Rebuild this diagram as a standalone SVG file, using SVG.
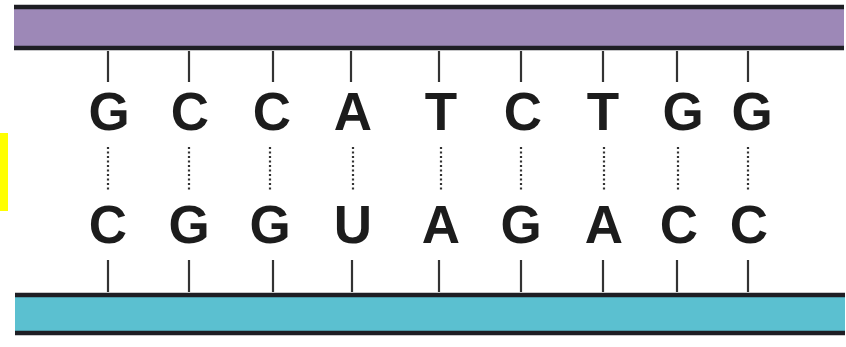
<svg xmlns="http://www.w3.org/2000/svg" width="846" height="347" viewBox="0 0 846 347">
<style>
.base{font-family:"Liberation Sans",Arial,sans-serif;font-weight:bold;font-size:53px;fill:#1c1c1c;text-anchor:middle}
.tick{stroke:#333;stroke-width:2.2}
.hb{stroke:#333;stroke-width:2.2;stroke-dasharray:2 2.5}
.edge{stroke:#1e1e24;stroke-width:4.5}
</style>
<rect width="846" height="347" fill="#ffffff"/>
<rect x="0" y="133" width="8" height="78" fill="#ffff00"/>
<g id="top-strand">
<rect x="14" y="7" width="830" height="41" fill="#9d88b7"/>
<line class="edge" x1="14" y1="7" x2="844" y2="7"/>
<line class="edge" x1="14" y1="48" x2="844" y2="48"/>
</g>
<g id="bottom-strand">
<rect x="15" y="295" width="830" height="38" fill="#5bc0d0"/>
<line class="edge" x1="15" y1="295" x2="845" y2="295"/>
<line class="edge" x1="15" y1="333" x2="845" y2="333"/>
</g>
<g id="connectors">
<g class="tick">
<line x1="108" y1="51" x2="108" y2="82"/><line x1="189" y1="51" x2="189" y2="82"/><line x1="273" y1="51" x2="273" y2="82"/>
<line x1="351" y1="51" x2="351" y2="82"/><line x1="439" y1="51" x2="439" y2="82"/><line x1="521" y1="51" x2="521" y2="82"/>
<line x1="603" y1="51" x2="603" y2="82"/><line x1="677" y1="51" x2="677" y2="82"/><line x1="748" y1="51" x2="748" y2="82"/>
<line x1="108" y1="260" x2="108" y2="292"/><line x1="189" y1="260" x2="189" y2="292"/><line x1="273" y1="260" x2="273" y2="292"/>
<line x1="352" y1="260" x2="352" y2="292"/><line x1="439" y1="260" x2="439" y2="292"/><line x1="521" y1="260" x2="521" y2="292"/>
<line x1="603" y1="260" x2="603" y2="292"/><line x1="677" y1="260" x2="677" y2="292"/><line x1="748" y1="260" x2="748" y2="292"/>
</g>
<g class="hb">
<line x1="108" y1="147" x2="108" y2="192"/><line x1="189" y1="147" x2="189" y2="192"/><line x1="270" y1="147" x2="270" y2="192"/>
<line x1="353" y1="147" x2="353" y2="192"/><line x1="441" y1="147" x2="441" y2="192"/><line x1="521" y1="147" x2="521" y2="192"/>
<line x1="604" y1="147" x2="604" y2="192"/><line x1="678" y1="147" x2="678" y2="192"/><line x1="748" y1="147" x2="748" y2="192"/>
</g>
</g>
<g id="top-bases">
<text class="base" x="109" y="130">G</text><text class="base" x="190" y="130">C</text><text class="base" x="272" y="130">C</text>
<text class="base" x="353" y="130">A</text><text class="base" x="441" y="130">T</text><text class="base" x="523" y="130">C</text>
<text class="base" x="603" y="130">T</text><text class="base" x="683" y="130">G</text><text class="base" x="752" y="130">G</text>
</g>
<g id="bottom-bases">
<text class="base" x="108" y="243">C</text><text class="base" x="189" y="243">G</text><text class="base" x="270" y="243">G</text>
<text class="base" x="353" y="243">U</text><text class="base" x="441" y="243">A</text><text class="base" x="521" y="243">G</text>
<text class="base" x="604" y="243">A</text><text class="base" x="679" y="243">C</text><text class="base" x="749" y="243">C</text>
</g>
</svg>
